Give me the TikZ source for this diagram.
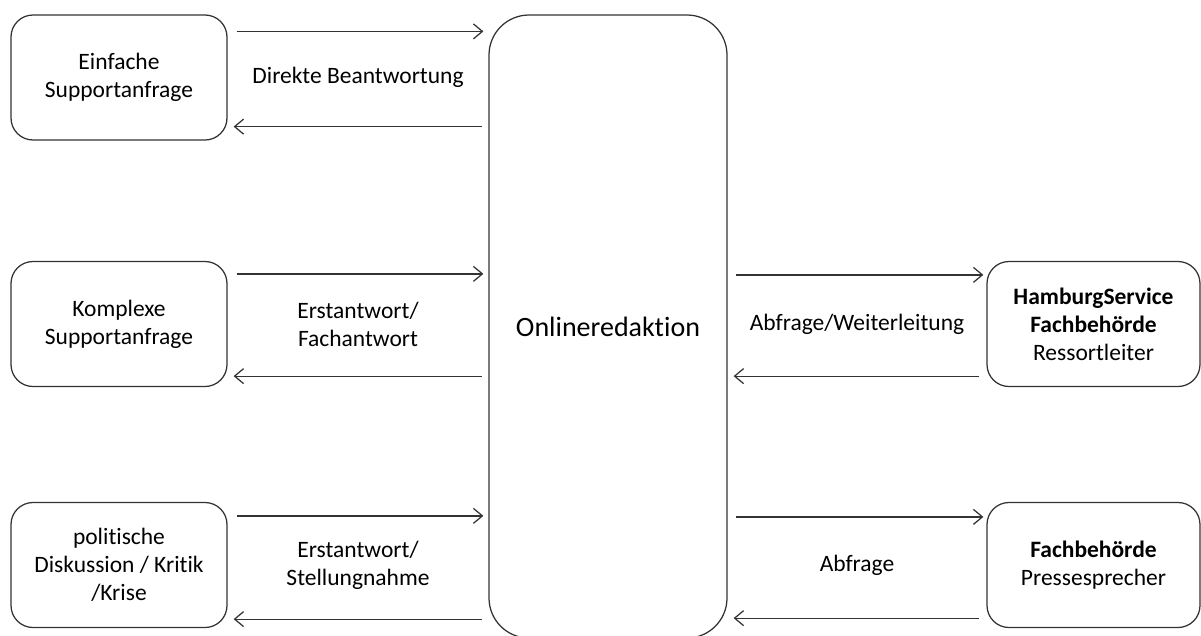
\documentclass[tikz,border=0pt]{standalone}
\usepackage{fontspec}
\setmainfont[Ligatures={NoCommon,NoContextual,NoRare}, RawFeature={-liga;-clig;-calt}]{Carlito}
\usetikzlibrary{arrows.meta}
\newcommand{\linecolor}{black!80!white}
\newcommand{\sidewid}{216}
\newcommand{\sidehei}{125}

\tikzset{
    sidebox/.style={draw=\linecolor, line width=1.25pt, rounded corners=22pt,
        minimum width=\sidewid pt, minimum height=\sidehei pt, inner sep=0pt, align=center},
    mainbox/.style={draw=\linecolor, line width=1.25pt, rounded corners=40pt,
        minimum width=238pt, minimum height=623pt, inner sep=0pt,
        font=\fontsize{28}{32}\selectfont},
    flow/.style={draw=\linecolor, line width=1.25pt},
    flowtext/.style={align=center}
}

\begin{document}
\begin{tikzpicture}[x=1pt, y=-1pt, font=\fontsize{23.5}{28}\selectfont,
        >={Straight Barb[length=9pt,width=15pt]}]
        \useasboundingbox (0, 0) rectangle (1201, 635);

        % boxes
        \node[sidebox] (einfach) at (119, 77.5) {Einfache\\Supportanfrage};
        \node[sidebox] (komplex) at (119, 324) {Komplexe\\Supportanfrage};
        \node[sidebox] (politik) at (119, 565) {politische\\Diskussion / Kritik\\/Krise};
        \node[mainbox] (redaktion) at (608, 326.5) {Onlineredaktion};
        \node[sidebox, minimum width=213pt] (hamburg) at (1093.5, 324)
            {\textbf{HamburgService}\\\textbf{Fachbehörde}\\Ressortleiter};
        \node[sidebox, minimum width=213pt] (presse) at (1093.5, 565)
            {\textbf{Fachbehörde}\\Pressesprecher};

        % arrows left
        \draw[flow, ->, shorten <=9pt, shorten >=5pt] ([yshift=-17pt]einfach.north east) -- ([yshift=-17pt]einfach.north east -| redaktion.west);
        \draw[flow, <-, shorten <=6pt, shorten >=6pt] ([yshift=14pt]einfach.south east) -- ([yshift=14pt]einfach.south east -| redaktion.west);
        \draw[flow, ->, shorten <=9pt, shorten >=5pt] ([yshift=-13pt]komplex.north east) -- ([yshift=-13pt]komplex.north east -| redaktion.west);
        \draw[flow, <-, shorten <=6pt, shorten >=6pt] ([yshift=11pt]komplex.south east) -- ([yshift=11pt]komplex.south east -| redaktion.west);
        \draw[flow, ->, shorten <=9pt, shorten >=5pt] ([yshift=-14pt]politik.north east) -- ([yshift=-14pt]politik.north east -| redaktion.west);
        \draw[flow, <-, shorten <=6pt, shorten >=6pt] ([yshift=9pt]politik.south east) -- ([yshift=9pt]politik.south east -| redaktion.west);

        % arrows right
        \draw[flow, ->, shorten <=8pt, shorten >=3pt] ([yshift=-14pt]hamburg.north west -| redaktion.east) -- ([yshift=-14pt]hamburg.north west);
        \draw[flow, <-, shorten <=6pt, shorten >=7pt] ([yshift=11pt]hamburg.south west -| redaktion.east) -- ([yshift=11pt]hamburg.south west);
        \draw[flow, ->, shorten <=8pt, shorten >=3pt] ([yshift=-15pt]presse.north west -| redaktion.east) -- ([yshift=-15pt]presse.north west);
        \draw[flow, <-, shorten <=6pt, shorten >=7pt] ([yshift=10pt]presse.south west -| redaktion.east) -- ([yshift=10pt]presse.south west);

        % labels
        \path (einfach.east) -- (einfach.east -| redaktion.west) node[midway, flowtext] (direkt) {Direkte Beantwortung};
        \path (komplex.east) -- (komplex.east -| redaktion.west) node[midway, flowtext] (fach) {Erstantwort/\\Fachantwort};
        \path (politik.east) -- (politik.east -| redaktion.west) node[midway, flowtext] (stellung) {Erstantwort/\\Stellungnahme};
        \path (redaktion.east |- hamburg.west) -- (hamburg.west) node[midway, flowtext] (weiter) {Abfrage/Weiterleitung};
        \path (redaktion.east |- presse.west) -- (presse.west) node[midway, flowtext] (abfrage) {Abfrage};
    \end{tikzpicture}
\end{document}
